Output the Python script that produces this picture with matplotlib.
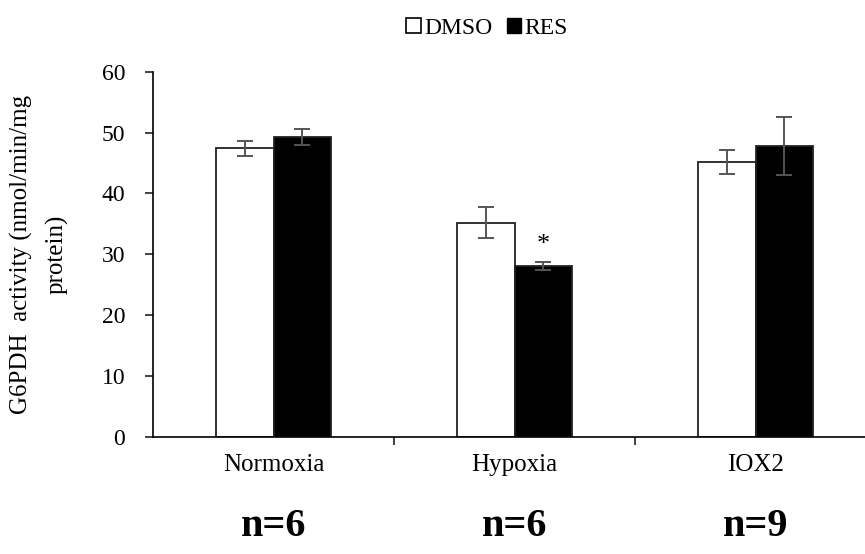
import matplotlib
matplotlib.use("Agg")
import matplotlib.pyplot as plt
import matplotlib.patches as mpatches
import matplotlib.transforms as mtransforms
import numpy as np

groups = ["Normoxia", "Hypoxia", "IOX2"]
n_labels = ["n=6", "n=6", "n=9"]
dmso_mean = [47.4, 35.2, 45.2]
dmso_err = [1.2, 2.5, 2.0]
res_mean = [49.3, 28.1, 47.8]
res_err = [1.3, 0.7, 4.7]
star_group = 1  # hypoxia RES vs DMSO

plt.rcParams["font.family"] = ["Liberation Serif", "DejaVu Serif"]

fig = plt.figure(figsize=(8.65, 5.54), dpi=100)
ax = fig.add_axes([153 / 865, 117 / 554, 723 / 865, 365.3 / 554])

x = np.arange(len(groups))
w = 0.24
err_kw = dict(ecolor="#555555", elinewidth=1.4, capsize=5.5, capthick=1.4)
ax.bar(x - w / 2, dmso_mean, w, yerr=dmso_err, color="white",
       edgecolor="#222222", linewidth=1.3, error_kw=err_kw, label="DMSO")
ax.bar(x + w / 2, res_mean, w, yerr=res_err, color="black",
       edgecolor="#222222", linewidth=1.3, error_kw=err_kw, label="RES")

ax.text(star_group + w / 2, res_mean[star_group] + res_err[star_group] + 1.0, "*",
        ha="center", va="bottom", fontsize=19)

ax.set_xlim(-0.5, 2.5)
ax.set_ylim(0, 60)
ax.set_yticks(range(0, 61, 10))
ax.set_xticks([0.5, 1.5])
ax.set_xticklabels([])
ax.tick_params(axis="x", length=6, width=1.2, direction="out", color="#222222")
ax.tick_params(axis="y", length=6, width=1.2, direction="out", labelsize=17,
               color="#222222", pad=14)
ax.spines["top"].set_visible(False)
ax.spines["right"].set_visible(False)
ax.spines["left"].set_linewidth(1.2)
ax.spines["bottom"].set_linewidth(1.2)

# group labels and n values under the axis
trans = mtransforms.blended_transform_factory(ax.transData, fig.transFigure)
for i, (g, n) in enumerate(zip(groups, n_labels)):
    ax.text(i, 1 - 465 / 554, g, transform=trans, ha="center", va="center",
            fontsize=18)
    ax.text(i, 1 - 527 / 554, n, transform=trans, ha="center", va="center",
            fontsize=29, fontweight="bold")

ax.set_ylabel("G6PDH  activity (nmol/min/mg\nprotein)", fontsize=18,
              linespacing=1.7, labelpad=24)

handles = [mpatches.Patch(facecolor="white", edgecolor="black", linewidth=1.2, label="DMSO"),
           mpatches.Patch(facecolor="black", edgecolor="black", label="RES")]
fig.legend(handles=handles, loc="center", bbox_to_anchor=(487 / 865, 1 - 28 / 554),
           ncol=2, frameon=False, fontsize=17, handlelength=0.6, handleheight=0.6,
           handletextpad=0.15, columnspacing=0.6)

fig.savefig("out.png", dpi=100)
